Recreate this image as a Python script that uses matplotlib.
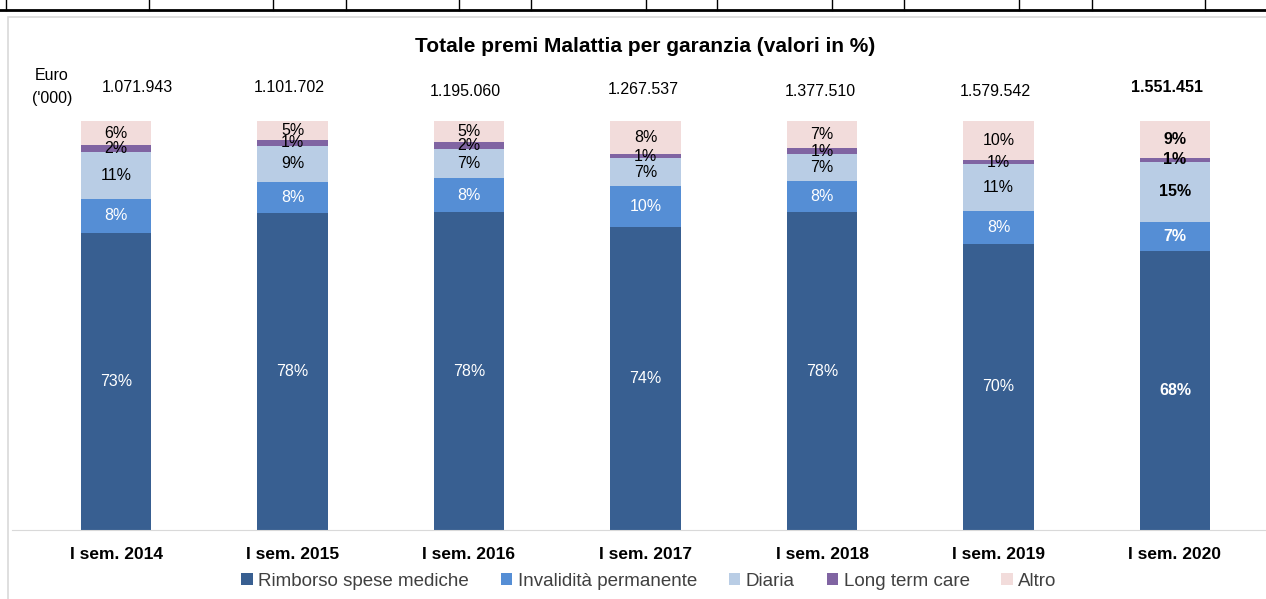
import matplotlib.pyplot as plt
from matplotlib.patches import Rectangle
from matplotlib.lines import Line2D

plt.rcParams['font.family'] = ['Liberation Sans', 'DejaVu Sans']

# dati
periodi = ['I sem. 2014', 'I sem. 2015', 'I sem. 2016', 'I sem. 2017',
           'I sem. 2018', 'I sem. 2019', 'I sem. 2020']
totali = ['1.071.943', '1.101.702', '1.195.060', '1.267.537',
          '1.377.510', '1.579.542', '1.551.451']
rimborso = [72.7, 77.6, 77.7, 74.1, 77.7, 70.0, 68.2]
invalidita = [8.3, 7.6, 8.3, 10.0, 7.6, 8.1, 7.1]
diaria = [11.4, 8.8, 7.1, 6.8, 6.6, 11.3, 14.7]
ltc = [1.7, 1.4, 1.8, 1.0, 1.4, 1.0, 1.0]
altro = [5.9, 4.6, 5.1, 8.1, 6.7, 9.6, 9.0]

serie = [
    ('Rimborso spese mediche', rimborso, '#385F91', 'white'),
    ('Invalidità permanente', invalidita, '#558ED5', 'white'),
    ('Diaria', diaria, '#B9CDE5', 'black'),
    ('Long term care', ltc, '#8064A2', 'black'),
    ('Altro', altro, '#F2DCDB', 'black'),
]

W, H = 1266, 599
fig = plt.figure(figsize=(W / 100, H / 100), dpi=100)

# cornice del grafico e riga di tabella tagliata in alto
fig.add_artist(Rectangle((8 / W, -0.05), 1.1, 1 - 17 / H + 0.05, transform=fig.transFigure,
                         facecolor='white', edgecolor='#D9D9D9', linewidth=1.2, zorder=-10))
fig.add_artist(Line2D([0, 1], [1 - 10 / H] * 2, transform=fig.transFigure, color='black', lw=2))
for xp in [6, 149, 273, 346, 459, 531, 646, 717, 832, 904, 1019, 1092, 1205]:
    fig.add_artist(Line2D([xp / W] * 2, [1 - 10 / H, 1], transform=fig.transFigure,
                          color='black', lw=1))

x0, step = 116, 176.5
left_px, right_px = 12, 1266
ax = fig.add_axes([left_px / W, (H - 530) / H, (right_px - left_px) / W, 409 / H])
ax.set_facecolor('none')
ax.set_xlim(-(x0 - left_px) / step, (right_px - x0) / step)
ax.set_ylim(0, 100)

xs = range(len(periodi))
bottom = [0] * len(periodi)
for nome, vals, col, tcol in serie:
    ax.bar(xs, vals, width=0.397, bottom=bottom, color=col, label=nome, linewidth=0)
    for i, v in enumerate(vals):
        bold = i == len(periodi) - 1
        ax.text(i, bottom[i] + v / 2, '%d%%' % round(v), ha='center', va='center',
                color=tcol, fontsize=11.5, fontweight='bold' if bold else 'normal')
    bottom = [b + v for b, v in zip(bottom, vals)]

# caselle dei totali spostate a mano come nell'originale
dx = [0.12, -0.02, -0.02, -0.01, -0.01, -0.02, -0.045]
dy = [0, 0, -1, -0.3, -1, -1, 0]
for i, t in enumerate(totali):
    ax.text(i + dx[i], 108.1 + dy[i], t, ha='center', va='center', fontsize=11.5,
            fontweight='bold' if i == len(periodi) - 1 else 'normal', clip_on=False)

ax.set_xticks(list(xs))
ax.set_xticklabels(periodi, fontweight='bold', fontsize=12.5)
ax.tick_params(axis='x', length=0, pad=12)
ax.set_yticks([])
for s in ['top', 'right', 'left']:
    ax.spines[s].set_visible(False)
ax.spines['bottom'].set_color('#D9D9D9')

fig.text(645 / W, 1 - 46 / H, 'Totale premi Malattia per garanzia (valori in %)',
         ha='center', va='center', fontsize=15, fontweight='bold')
fig.text(52 / W, 1 - 75 / H, 'Euro', ha='center', va='center', fontsize=11.5)
fig.text(52 / W, 1 - 98 / H, "('000)", ha='center', va='center', fontsize=11.5)

leg = fig.legend(loc='center', bbox_to_anchor=(649 / W, 1 - 581 / H), ncol=5, frameon=False,
                 fontsize=13.5, handlelength=0.6, handleheight=0.6, handletextpad=0.3,
                 columnspacing=1.7)
for t in leg.get_texts():
    t.set_color('#404040')

fig.savefig('out.png', dpi=100)
